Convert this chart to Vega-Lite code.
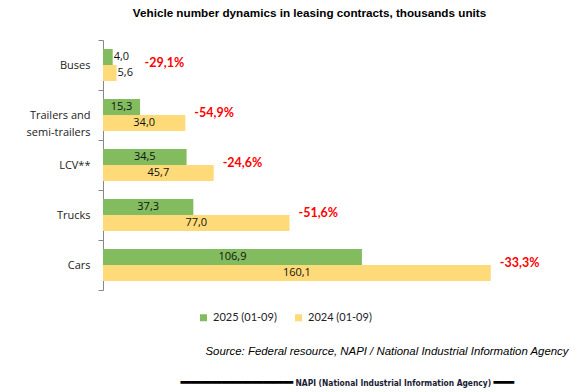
{
"$schema":"https://vega.github.io/schema/vega-lite/v6.json",
"width":436,"height":250,
"autosize":"none",
"padding":{"left":103,"top":40,"right":41,"bottom":102},
"background":"white",
"data":{"values":[
{"category":"Buses","series":"2025 (01-09)","value":4.0},
{"category":"Buses","series":"2024 (01-09)","value":5.6,"change":-0.291},
{"category":"Trailers and semi-trailers","series":"2025 (01-09)","value":15.3},
{"category":"Trailers and semi-trailers","series":"2024 (01-09)","value":34.0,"change":-0.549},
{"category":"LCV**","series":"2025 (01-09)","value":34.5},
{"category":"LCV**","series":"2024 (01-09)","value":45.7,"change":-0.246},
{"category":"Trucks","series":"2025 (01-09)","value":37.3},
{"category":"Trucks","series":"2024 (01-09)","value":77.0,"change":-0.516},
{"category":"Cars","series":"2025 (01-09)","value":106.9},
{"category":"Cars","series":"2024 (01-09)","value":160.1,"change":-0.333}
]},
"encoding":{"y":{"field":"category","type":"nominal","sort":["Buses","Trailers and semi-trailers","LCV**","Trucks","Cars"],"scale":{"paddingInner":0,"paddingOuter":0},"axis":{"title":null,"domainColor":"#888888","tickColor":"#888888","tickSize":5,"tickBand":"extent","labelFont":"Open Sans","labelFontSize":11,"labelColor":"#222222","labelPadding":8,"labelLineHeight":17,"labelExpr":"datum.label == 'Trailers and semi-trailers' ? ['Trailers and','semi-trailers'] : datum.label"}}},
"layer":[
{"mark":{"type":"bar"},"encoding":{
"x":{"field":"value","type":"quantitative","scale":{"domain":[0,180]},"axis":{"orient":"top","title":"Vehicle number dynamics in leasing contracts, thousands units","domain":false,"ticks":false,"labels":false,"grid":false,"titleFont":"Liberation Sans","titleFontSize":11.7,"titleFontWeight":"bold","titleColor":"#000000","titlePadding":22,"titleX":206,"titleAlign":"center"}},
"yOffset":{"field":"series","type":"nominal","sort":["2025 (01-09)","2024 (01-09)"],"scale":{"paddingInner":0,"paddingOuter":0.5625}},
"color":{"field":"series","type":"nominal","sort":["2025 (01-09)","2024 (01-09)"],"scale":{"range":["#82BC5E","#FFDA78"]},"legend":{"orient":"none","direction":"horizontal","legendX":95,"legendY":272,"title":null,"symbolType":"square","symbolSize":49,"symbolStrokeWidth":0,"labelFont":"Lato","labelFontSize":11,"labelColor":"#222222","columnPadding":16,"padding":0}}}},
{"transform":[{"filter":"datum.value >= 10"}],"mark":{"type":"text","align":"center","baseline":"middle","font":"Open Sans","fontSize":11,"color":"#111111"},"encoding":{
"x":{"field":"value","type":"quantitative","scale":{"domain":[0,360]},"axis":{"orient":"bottom","domain":false,"ticks":false,"labels":false,"grid":false,"title":"Source: Federal resource, NAPI / National Industrial Information Agency","titleFont":"Liberation Sans","titleFontStyle":"italic","titleFontWeight":"normal","titleFontSize":11.4,"titleColor":"#000000","titleX":465,"titleY":64,"titleAlign":"right","titleBaseline":"alphabetic"}},
"yOffset":{"field":"series","type":"nominal","sort":["2025 (01-09)","2024 (01-09)"]},
"text":{"field":"value","type":"quantitative","format":".1f"}}},
{"transform":[{"filter":"datum.value < 10"}],"mark":{"type":"text","align":"left","baseline":"middle","dx":1,"font":"Open Sans","fontSize":11,"color":"#111111"},"encoding":{
"x":{"field":"value","type":"quantitative","scale":{"domain":[0,180]},"axis":{"orient":"bottom","domain":false,"ticks":false,"labels":false,"grid":false,"title":"━━━━━━━━━━━","titleFont":"DejaVu Sans","titleFontWeight":"normal","titleFontSize":17,"titleColor":"#000000","titleX":77,"titleY":97,"titleAlign":"left","titleBaseline":"alphabetic"}},
"yOffset":{"field":"series","type":"nominal","sort":["2025 (01-09)","2024 (01-09)"]},
"text":{"field":"value","type":"quantitative","format":".1f"}}},
{"transform":[{"filter":"isValid(datum.change) && datum.value >= 10"}],"mark":{"type":"text","align":"left","baseline":"middle","dx":9,"dy":-2,"font":"Lato","fontWeight":"bold","fontSize":12.5,"color":"#FF0000"},"encoding":{
"x":{"field":"value","type":"quantitative","scale":{"domain":[0,180]},"axis":{"orient":"bottom","domain":false,"ticks":false,"labels":false,"grid":false,"title":"━━","titleFont":"DejaVu Sans","titleFontWeight":"normal","titleFontSize":17,"titleColor":"#000000","titleX":390,"titleY":97,"titleAlign":"left","titleBaseline":"alphabetic"}},
"text":{"field":"change","type":"quantitative","format":".1%"}}},
{"transform":[{"filter":"isValid(datum.change) && datum.value < 10"}],"mark":{"type":"text","align":"left","baseline":"middle","dx":28,"dy":-2,"font":"Lato","fontWeight":"bold","fontSize":12.5,"color":"#FF0000"},"encoding":{
"x":{"field":"value","type":"quantitative","scale":{"domain":[0,180]},"axis":{"orient":"bottom","domain":false,"ticks":false,"labels":false,"grid":false,"title":"NAPI (National Industrial Information Agency)","titleFont":"DejaVu Sans Condensed, DejaVu Sans","titleFontWeight":"bold","titleFontSize":8.4,"titleColor":"#1a1a33","titleX":192,"titleY":95,"titleAlign":"left","titleBaseline":"alphabetic"}},
"text":{"field":"change","type":"quantitative","format":".1%"}}}
],
"resolve":{"scale":{"x":"independent"}},
"config":{"view":{"stroke":null},"locale":{"number":{"decimal":",","thousands":" ","grouping":[3],"currency":["",""],"minus":"-"}}}
}
